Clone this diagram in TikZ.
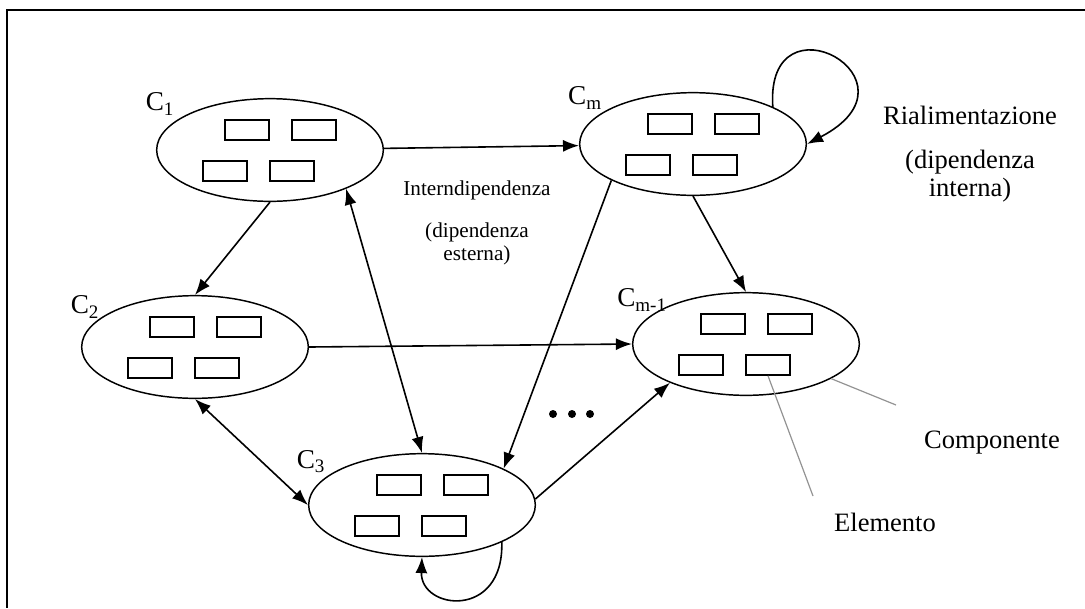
\documentclass[tikz,border=0pt]{standalone}
\usepackage{fontspec}
\setmainfont{Liberation Serif}
\usetikzlibrary{shapes.geometric,arrows.meta}
\colorlet{leader}{gray!85}
\tikzset{
  component/.style={draw,ellipse,line width=1.1pt,minimum width=170pt,minimum height=77pt,inner sep=0pt},
  element/.style={draw,rectangle,line width=1.2pt,minimum width=33pt,minimum height=15pt,inner sep=0pt},
  clabel/.style={inner sep=0pt,font=\fontsize{20.4pt}{22pt}\selectfont},
  note/.style={inner sep=0pt,align=center,font=\fontsize{19.9pt}{21pt}\selectfont},
  midnote/.style={inner sep=0pt,align=center,font=\fontsize{15.9pt}{17.25pt}\selectfont},
  link/.style={draw,line width=1.2pt},
  pointer/.style={draw,leader,line width=0.9pt},
  frame/.style={draw,line width=1.5pt},
}

\begin{document}
\begin{tikzpicture}[x=0.75pt,y=-0.75pt,>={Latex[length=12pt,width=9pt]}]
\useasboundingbox (0,0) rectangle (1085,608);
\draw[frame] (1085,10) -- (7,10) -- (7,608);
\node[component] (c1) at (270,150) {};
\node[component] (cm) at (693,144) {};
\node[component] (c2) at (195,347) {};
\node[component] (cmm) at (746,344) {};
\node[component] (c3) at (422,505) {};
\foreach \c in {c1,cm,c2,cmm,c3}
  \foreach \dx/\dy/\e in {-23/-20/a,44/-20/b,-45/21/c,22/21/d}
    \node[element] (\c-\e) at ([shift={(\dx,\dy)}]\c) {};
\node[clabel] (c1-name) at (160,104) {C\textsubscript{1}};
\node[clabel] (cm-name) at (585,98) {C\textsubscript{m}};
\node[clabel] (c2-name) at (85,307) {C\textsubscript{2}};
\node[clabel] (cmm-name) at (642,300) {C\textsubscript{m-1}};
\node[clabel] (c3-name) at (311,462) {C\textsubscript{3}};
\draw[link,->] (c1) -- (cm);
\draw[link,->] (c1.south) -- (c2.north);
\draw[link,<->] (c1.-27) -- (c3.north);
\draw[link,->] (cm.-156) -- (c3.24);
\draw[link,->] (cm.south) -- (cmm.north);
\draw[link,->] (c2.east) -- (cmm.west);
\draw[link,<->] (c2.south) -- (c3.west);
\draw[link,->] (c3.3) -- (cmm.-153);
\draw[link,->] (cm.25) .. controls (765,-10) and (930,80) .. (cm.east);
\draw[link,->] (c3.-25) .. controls (504,620) and (420,610) .. (c3.south);
\foreach \x in {553,572,590}
  \fill (\x,414) circle[radius=3pt];
\coordinate (elem-end) at (813,496);
\coordinate (comp-end) at (896,405);
\draw[pointer] (cmm-d.south) -- (elem-end);
\draw[pointer] (cmm) -- (comp-end);
\node[midnote] (interd) at (477,190) {Interndipendenza};
\node[midnote] (ext) at (477,243.5) {(dipendenza\\esterna)};
\node[note] (rial) at (970,115) {Rialimentazione};
\node[note] (intern) at (970,176) {(dipendenza\\interna)};
\node[note] (comp) at (992,443) {Componente};
\node[note] (elem) at (885,522) {Elemento};
\end{tikzpicture}
\end{document}
